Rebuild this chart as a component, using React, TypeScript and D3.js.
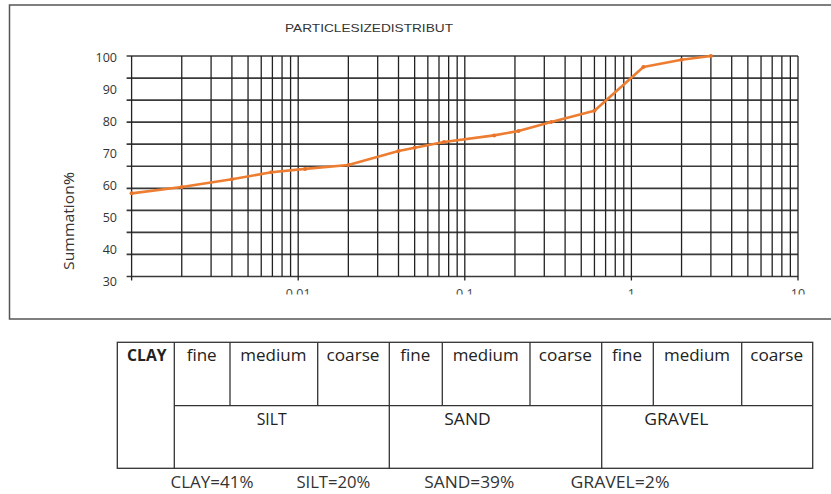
import React, { useEffect, useRef } from "react";
import * as d3 from "d3";

// Grain size (mm) and cumulative percent passing
const sizeMm = [0.001, 0.002, 0.004, 0.0069, 0.011, 0.02, 0.04, 0.05, 0.075, 0.15, 0.21, 0.33, 0.6, 1.18, 2, 3];
const passingPct = [37.7, 40.6, 44.1, 47.3, 48.8, 50.6, 56.9, 58.4, 61, 64, 66, 70.1, 75.2, 95, 98.3, 100];

// Axis labels
const yTickLabels = [100, 90, 80, 70, 60, 50, 40, 30];
const xTickValues = [0.01, 0.1, 1, 10];
const xTickLabels = ["0.01", "0.1", "1", "10"];

// Classification table
const fractions = ["CLAY", "SILT", "SAND", "GRAVEL"];
const subRanges = ["fine", "medium", "coarse"];
const fractionPct = [41, 20, 39, 2];

const W = 831;
const H = 494;
const plot = { left: 131.6, right: 798, top: 56, bottom: 276.5 };
const FONT = "'Open Sans', 'Liberation Sans', sans-serif";

// table geometry
const table = {
  top: 342.3,
  mid: 405.7,
  bottom: 468.3,
  clayLeft: 117.3,
  groupEdges: [174.3, 389.3, 601.7, 812.7],
  subEdges: [
    [174.3, 230, 317.7, 389.3],
    [389.3, 442.3, 530, 601.7],
    [601.7, 653.3, 741.7, 812.7],
  ],
  groupLabelX: [271.7, 467.5, 676.3],
  subWidth: { fine: 30, medium: 66, coarse: 53 } as Record<string, number>,
  groupWidth: [30, 46.4, 64],
  row1: 361,
  row2: 425,
};
const summary = { x: [212, 333.4, 469.3, 620], width: [83, 74, 90, 99], y: 487.7 };

export default function App() {
  const ref = useRef<SVGSVGElement>(null);

  useEffect(() => {
    const svg = d3.select(ref.current);
    svg.selectAll("*").remove();

    svg.append("rect").attr("width", W).attr("height", H).attr("fill", "#fff");

    // chart frame
    svg
      .append("rect")
      .attr("x", 9.5)
      .attr("y", 5)
      .attr("width", 830)
      .attr("height", 314)
      .attr("fill", "none")
      .attr("stroke", "#555")
      .attr("stroke-width", 1.5);

    const x = d3.scaleLog().domain([0.001, 10]).range([plot.left, plot.right]);
    const y = d3.scaleLinear().domain([0, 100]).range([plot.bottom, plot.top]);
    const yLabel = d3.scaleLinear().domain([30, 100]).range([281.5, 57.5]);

    // title
    svg
      .append("text")
      .attr("x", 285)
      .attr("y", 31.7)
      .attr("font-family", "'Liberation Sans', sans-serif")
      .attr("font-size", 11)
      .attr("fill", "#333")
      .attr("textLength", 168)
      .attr("lengthAdjust", "spacingAndGlyphs")
      .text("PARTICLESIZEDISTRIBUT");

    const grid = svg.append("g");

    // horizontal grid with short outer ticks
    grid
      .selectAll("line.h")
      .data(d3.range(0, 101, 10))
      .join("line")
      .attr("x1", plot.left - 5)
      .attr("x2", plot.right)
      .attr("y1", (d) => y(d))
      .attr("y2", (d) => y(d))
      .attr("stroke", "#3a3a3a")
      .attr("stroke-width", 1.7);

    // vertical log grid
    const minor: number[] = [];
    [0.001, 0.01, 0.1, 1].forEach((dec) => {
      for (let m = 1; m <= 9; m++) minor.push(dec * m);
    });
    minor.push(10);
    grid
      .selectAll("line.v")
      .data(minor)
      .join("line")
      .attr("x1", (d) => x(d))
      .attr("x2", (d) => x(d))
      .attr("y1", plot.top)
      .attr("y2", (d) => {
        const isMajor = Math.abs(Math.log10(d) - Math.round(Math.log10(d))) < 1e-9;
        return isMajor ? plot.bottom + 4 : plot.bottom;
      })
      .attr("stroke", "#222")
      .attr("stroke-width", 1.3);

    // y tick labels
    svg
      .append("g")
      .selectAll("text")
      .data(yTickLabels)
      .join("text")
      .attr("x", 117)
      .attr("y", (d) => yLabel(d))
      .attr("text-anchor", "end")
      .attr("dominant-baseline", "central")
      .attr("font-family", FONT)
      .attr("font-size", 12.5)
      .attr("fill", "#333")
      .text((d) => String(d));

    // x tick labels, cut off at the lower band
    svg
      .append("clipPath")
      .attr("id", "xlab-clip")
      .append("rect")
      .attr("x", 0)
      .attr("y", 280)
      .attr("width", W)
      .attr("height", 14.5);
    svg
      .append("g")
      .attr("clip-path", "url(#xlab-clip)")
      .selectAll("text")
      .data(xTickValues)
      .join("text")
      .attr("x", (d) => x(d))
      .attr("y", 298)
      .attr("text-anchor", "middle")
      .attr("font-family", FONT)
      .attr("font-size", 12.5)
      .attr("fill", "#444")
      .text((_, i) => xTickLabels[i]);

    // y axis title
    svg
      .append("text")
      .attr("transform", "translate(68.5,221) rotate(-90)")
      .attr("text-anchor", "middle")
      .attr("dominant-baseline", "central")
      .attr("font-family", FONT)
      .attr("font-size", 14)
      .attr("fill", "#333")
      .attr("textLength", 98)
      .attr("lengthAdjust", "spacingAndGlyphs")
      .text("Summation%");

    // grading curve
    const pts = sizeMm.map((s, i) => [s, passingPct[i]] as [number, number]);
    const line = d3
      .line<[number, number]>()
      .x((d) => x(d[0]))
      .y((d) => y(d[1]));
    svg
      .append("path")
      .attr("d", line(pts))
      .attr("fill", "none")
      .attr("stroke", "#ED7D31")
      .attr("stroke-width", 2.6)
      .attr("stroke-linejoin", "round");
    svg
      .append("g")
      .selectAll("circle")
      .data(pts)
      .join("circle")
      .attr("cx", (d) => x(d[0]))
      .attr("cy", (d) => y(d[1]))
      .attr("r", 2)
      .attr("fill", "#E8732A");

    // classification table
    const t = svg.append("g").attr("stroke", "#333").attr("stroke-width", 1.3);
    t.append("rect")
      .attr("x", table.clayLeft)
      .attr("y", table.top)
      .attr("width", table.groupEdges[3] - table.clayLeft)
      .attr("height", table.bottom - table.top)
      .attr("fill", "none");
    t.append("line")
      .attr("x1", table.groupEdges[0])
      .attr("x2", table.groupEdges[3])
      .attr("y1", table.mid)
      .attr("y2", table.mid);
    table.groupEdges.slice(0, 3).forEach((gx) => {
      t.append("line").attr("x1", gx).attr("x2", gx).attr("y1", table.top).attr("y2", table.bottom);
    });
    table.subEdges.forEach((edges) => {
      edges.slice(1, 3).forEach((sx) => {
        t.append("line").attr("x1", sx).attr("x2", sx).attr("y1", table.top).attr("y2", table.mid);
      });
    });

    const txt = svg.append("g").attr("font-family", FONT).attr("fill", "#222").attr("text-anchor", "middle");
    txt
      .append("text")
      .attr("x", (table.clayLeft + table.groupEdges[0]) / 2 + 1)
      .attr("y", table.row1)
      .attr("font-size", 16)
      .attr("font-weight", "bold")
      .attr("textLength", 39.4)
      .attr("lengthAdjust", "spacingAndGlyphs")
      .text(fractions[0]);

    table.subEdges.forEach((edges, gi) => {
      subRanges.forEach((name, si) => {
        txt
          .append("text")
          .attr("x", (edges[si] + edges[si + 1]) / 2 - 0.5)
          .attr("y", table.row1)
          .attr("font-size", 16)
          .attr("textLength", table.subWidth[name])
          .attr("lengthAdjust", "spacingAndGlyphs")
          .text(name);
      });
      txt
        .append("text")
        .attr("x", table.groupLabelX[gi])
        .attr("y", table.row2)
        .attr("font-size", 16)
        .attr("textLength", table.groupWidth[gi])
        .attr("lengthAdjust", "spacingAndGlyphs")
        .text(fractions[gi + 1]);
    });

    // fraction summary
    fractions.forEach((f, i) => {
      txt
        .append("text")
        .attr("x", summary.x[i])
        .attr("y", summary.y)
        .attr("font-size", 15.5)
        .attr("fill", "#333")
        .attr("textLength", summary.width[i])
        .attr("lengthAdjust", "spacingAndGlyphs")
        .text(`${f}=${fractionPct[i]}%`);
    });
  }, []);

  return (
    <svg
      ref={ref}
      width={W}
      height={H}
      style={{ position: "absolute", left: 0, top: 0, display: "block" }}
    />
  );
}
